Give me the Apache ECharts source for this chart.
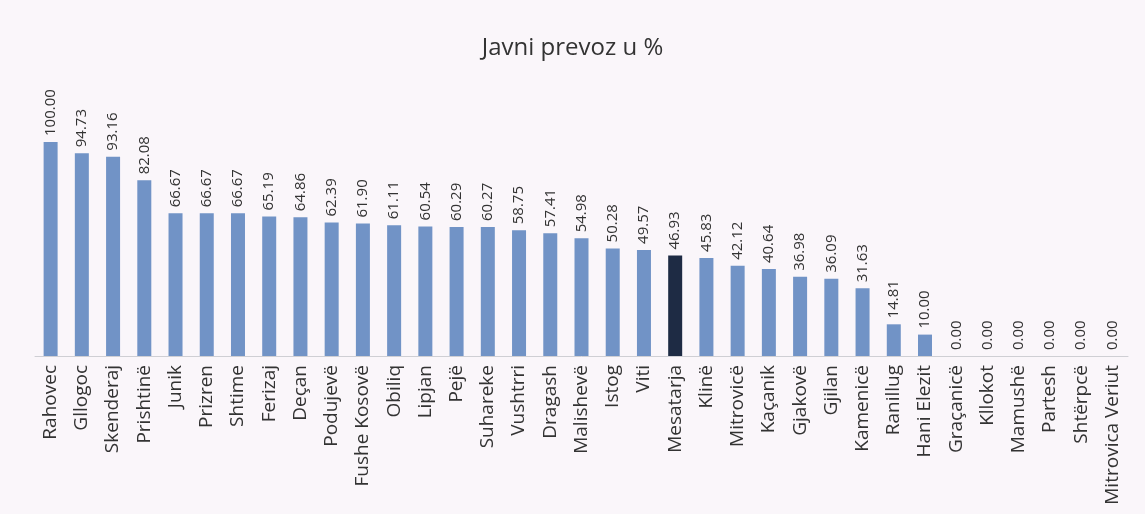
<!DOCTYPE html>
<html><head><meta charset="utf-8">
<script src="https://cdn.jsdelivr.net/npm/echarts@6/dist/echarts.min.js"></script>
<style>html,body{margin:0;padding:0;background:#faf6fa}#c{width:1145px;height:514px}</style>
</head><body><div id="c"></div>
<script>
const categories = ["Rahovec","Gllogoc","Skenderaj","Prishtinë","Junik","Prizren","Shtime","Ferizaj","Deçan","Podujevë","Fushe Kosovë","Obiliq","Lipjan","Pejë","Suhareke","Vushtrri","Dragash","Malishevë","Istog","Viti","Mesatarja","Klinë","Mitrovicë","Kaçanik","Gjakovë","Gjilan","Kamenicë","Ranillug","Hani Elezit","Graçanicë","Kllokot","Mamushë","Partesh","Shtërpcë","Mitrovica Veriut"];
const values = [100.00,94.73,93.16,82.08,66.67,66.67,66.67,65.19,64.86,62.39,61.90,61.11,60.54,60.29,60.27,58.75,57.41,54.98,50.28,49.57,46.93,45.83,42.12,40.64,36.98,36.09,31.63,14.81,10.00,0.00,0.00,0.00,0.00,0.00,0.00];
const highlight = "Mesatarja";
const titleText = "Javni prevoz u %";

const chart = echarts.init(document.getElementById('c'));
chart.setOption({
  backgroundColor: '#faf6fa',
  animation: false,
  textStyle: {fontFamily: 'Open Sans'},
  title: {text: titleText, left: 'center', top: 31, textStyle: {fontSize: 24, fontWeight: 'normal', color: '#333', fontFamily: 'Open Sans'}},
  grid: {left: 35, right: 17, top: 142, bottom: 158},
  xAxis: {type: 'category', data: categories,
    axisLine: {lineStyle: {color: '#cfcfd4'}}, axisTick: {show: false},
    axisLabel: {rotate: 90, interval: 0, fontSize: 19, color: '#333', margin: 9}},
  yAxis: {type: 'value', min: 0, max: 100, show: false, splitLine: {show: false}},
  series: [{type: 'bar', barWidth: 14,
    data: values.map((v, i) => ({value: v, itemStyle: {color: categories[i] === highlight ? '#1e2b44' : '#7193c6'}})),
    label: {show: true, position: 'top', rotate: 90, align: 'left', verticalAlign: 'middle', distance: 6,
      fontSize: 15, color: '#333', formatter: p => p.value.toFixed(2)}}]
});
</script></body></html>
